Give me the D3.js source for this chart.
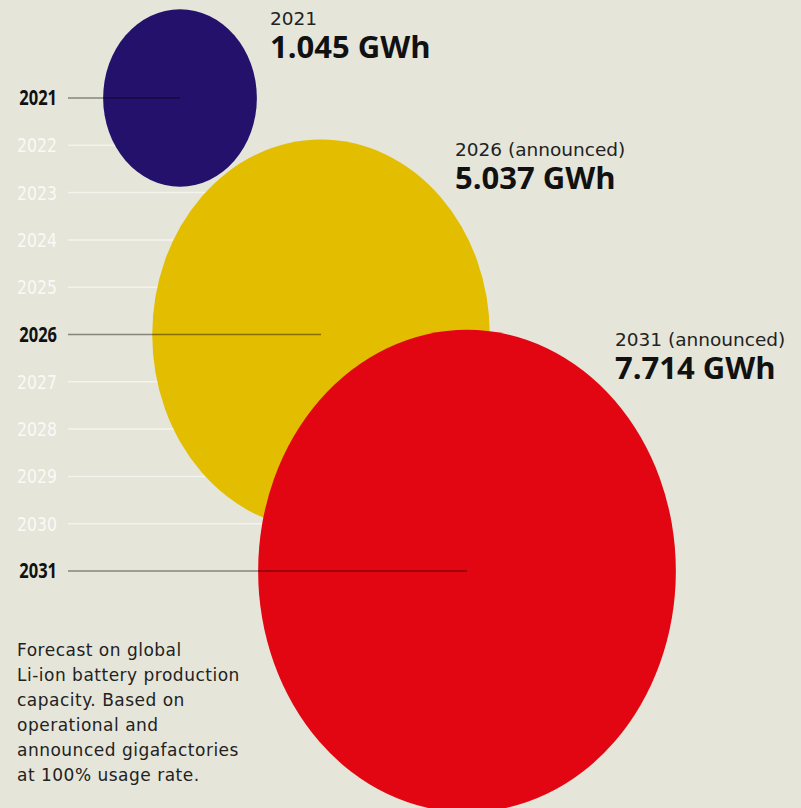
<!DOCTYPE html>
<html><head><meta charset="utf-8">
<script src="https://cdn.jsdelivr.net/npm/d3@7"></script>
<style>
html,body{margin:0;padding:0;background:#e5e5d9;}
svg{display:block;}
.light{font-family:"DejaVu Sans","Noto Sans",sans-serif;}
.bold{font-family:"Open Sans","Noto Sans",sans-serif;font-weight:700;}
</style></head>
<body>
<script>
// Data
const years = [2021,2022,2023,2024,2025,2026,2027,2028,2029,2030,2031];
const seriesYears = [2021, 2026, 2031];
const seriesValues = [1.045, 5.037, 7.714];
const seriesLabels = ["2021", "2026 (announced)", "2031 (announced)"];
const valueLabels = ["1.045 GWh", "5.037 GWh", "7.714 GWh"];
const seriesColors = ["#23116c", "#e3bd00", "#e20613"];
const footnote = ["Forecast on global","Li-ion battery production","capacity. Based on","operational and","announced gigafactories","at 100% usage rate."];

const W = 801, H = 808;
const svg = d3.select("body").append("svg").attr("width", W).attr("height", H);
svg.append("rect").attr("width", W).attr("height", H).attr("fill", "#e5e5d9");

const y = d3.scalePoint().domain(years).range([98, 571]);
const r = d3.scaleSqrt().domain([0, 10]).range([0, 75.2 * Math.sqrt(10)]);
const stretch = 1.155;
// layout: horizontal centres of bubbles and annotation anchors
const cxs = [180, 321, 467];
const labelX = [270, 455, 615];

const data = seriesYears.map((yr, i) => ({yr, v: seriesValues[i], lab: seriesLabels[i], val: valueLabels[i], c: seriesColors[i], cx: cxs[i], lx: labelX[i],
  cy: y(yr), rx: r(seriesValues[i]), ry: r(seriesValues[i]) * stretch}));

// left edge of the first bubble crossing a given height
function leftEdge(yy) {
  let m = 760;
  data.forEach(d => {
    const t = (yy - d.cy) / d.ry;
    if (Math.abs(t) < 1) m = Math.min(m, d.cx - d.rx * Math.sqrt(1 - t * t) + 2);
  });
  return m;
}

// white grid lines
svg.append("g").selectAll("line").data(years.filter(d => !seriesYears.includes(d))).join("line")
  .attr("x1", 68).attr("x2", d => leftEdge(y(d)))
  .attr("y1", d => y(d)).attr("y2", d => y(d))
  .attr("stroke", "#f4f4ee").attr("stroke-width", 1.5);

// year labels (slightly tall type, as in the original)
svg.append("g").selectAll("text").data(years).join("text")
  .attr("class", d => seriesYears.includes(d) ? "bold" : "light")
  .attr("transform", d => `translate(57,${y(d)}) scale(1,1.25)`)
  .attr("dy", "0.36em")
  .attr("text-anchor", "end")
  .attr("font-size", d => seriesYears.includes(d) ? 16.5 : 15.7)
  .attr("fill", d => seriesYears.includes(d) ? "#111" : "#fafaf5")
  .text(d => d);

// bubbles
svg.append("g").selectAll("ellipse").data(data).join("ellipse")
  .attr("cx", d => d.cx).attr("cy", d => d.cy)
  .attr("rx", d => d.rx).attr("ry", d => d.ry)
  .attr("fill", d => d.c);

// dark leader lines
svg.append("g").selectAll("line").data(data).join("line")
  .attr("x1", 68).attr("x2", d => d.cx)
  .attr("y1", d => d.cy).attr("y2", d => d.cy)
  .attr("stroke", "#000").attr("stroke-opacity", 0.42).attr("stroke-width", 1.5);

// annotations
const ann = svg.append("g").selectAll("g").data(data).join("g")
  .attr("transform", d => `translate(${d.lx},${d.cy - d.ry + 16})`);
ann.append("text").attr("class", "light").attr("y", 0).attr("font-size", 18.5).attr("fill", "#222").text(d => d.lab);
ann.append("text").attr("class", "bold").attr("y", 33).attr("font-size", 31).attr("fill", "#111").text(d => d.val);

// footnote
svg.append("text").attr("class", "light")
  .attr("transform", "translate(17,656) scale(1,1.08)")
  .attr("font-size", 17).attr("letter-spacing", 0.5).attr("fill", "#222")
  .selectAll("tspan").data(footnote).join("tspan")
  .attr("x", 0).attr("dy", (d, i) => i === 0 ? 0 : 25 / 1.08).text(d => d);
</script>
</body></html>
